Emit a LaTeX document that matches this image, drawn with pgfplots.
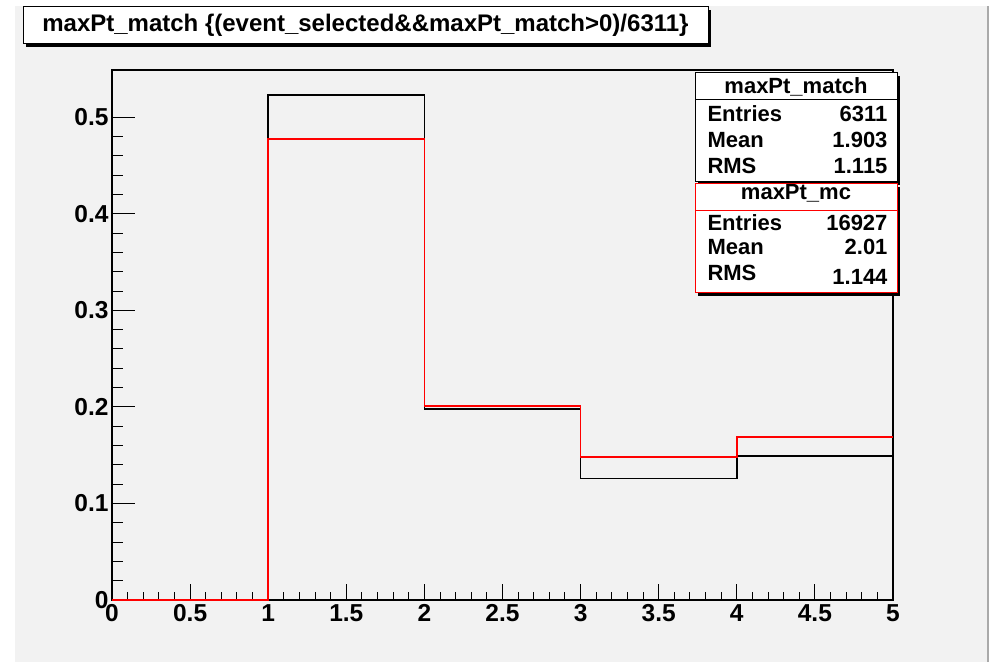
\documentclass[border=0pt]{standalone}
\usepackage{pgfplots}
\pgfplotsset{compat=1.18}
\usepackage{fontspec}
\setmainfont{Liberation Sans}
\definecolor{canvasgrey}{RGB}{242,242,242}
\definecolor{edgegrey}{RGB}{170,170,170}
\definecolor{histred}{RGB}{255,0,0}
\newcommand{\tickfont}{\fontsize{24.5}{28}\selectfont\bfseries}
\newcommand{\statfont}{\fontsize{22}{26}\selectfont\bfseries}
\begin{document}
\begin{tikzpicture}[x=1pt,y=1pt]
  % canvas
  \useasboundingbox (0,0) rectangle (994,662);
  \fill[white] (0,0) rectangle (994,662);
  \fill[canvasgrey] (15,0) rectangle (989,656);
  \draw[edgegrey,line width=2.5pt] (988,0) -- (988,656);

  % frame carrying the y ticks (longer tick marks on this axis)
  \begin{axis}[
      at={(112pt,62pt)}, anchor=south west,
      width=781pt, height=530pt, scale only axis,
      xmin=0, xmax=5, ymin=0, ymax=0.549,
      axis line style={line width=2pt},
      tick align=inside, tick pos=left,
      xtick=\empty,
      ytick={0,0.1,...,0.5}, minor y tick num=4,
      major tick length=23pt, minor tick length=11pt,
      every tick/.style={black, line width=1pt},
      yticklabel style={font=\tickfont},
      /pgf/number format/assume math mode=true,
    ]
    \addplot[draw=none] coordinates {(0,0)};
  \end{axis}

  % same frame with x ticks and the two histograms drawn over it
  \begin{axis}[
      at={(112pt,62pt)}, anchor=south west,
      width=781pt, height=530pt, scale only axis,
      xmin=0, xmax=5, ymin=0, ymax=0.549,
      axis line style={line width=2pt},
      tick align=inside, tick pos=left,
      xtick={0,0.5,...,5}, minor x tick num=4,
      ytick=\empty,
      major tick length=16pt, minor tick length=8pt,
      every tick/.style={black, line width=1pt},
      xticklabel style={font=\tickfont, yshift=-1pt},
      /pgf/number format/assume math mode=true,
      clip=false,
    ]
    \addplot[black, line width=1.6pt, const plot mark left] coordinates {
      (0,0) (1,0.5233) (2,0.198) (3,0.1257) (4,0.149) (5,0.149)
    };
    \addplot[histred, line width=1.6pt, const plot mark left] coordinates {
      (0,0) (1,0.4774) (2,0.201) (3,0.148) (4,0.169) (5,0.169)
    };
  \end{axis}

  % title box
  \fill[black] (26,615) rectangle (711,652);
  \draw[black, line width=1pt, fill=white] (23,618) rectangle (708,655);
  \node[font=\fontsize{24}{28}\selectfont\bfseries] at (365.5,636.5)
    {maxPt\_match \{(event\_selected\&\&maxPt\_match>0)/6311\}};

  % statistics box: maxPt_match
  \fill[black] (698,477) rectangle (900,586);
  \draw[black, line width=1pt, fill=white] (695,480) rectangle (897,589);
  \draw[black, line width=1pt] (695,562) -- (897,562);
  \node[font=\statfont] at (796,575.5) {maxPt\_match};
  \node[font=\statfont, anchor=west] at (704,548) {Entries};
  \node[font=\statfont, anchor=east] at (891,548) {6311};
  \node[font=\statfont, anchor=west] at (704,522) {Mean};
  \node[font=\statfont, anchor=east] at (891,522) {1.903};
  \node[font=\statfont, anchor=west] at (704,496) {RMS};
  \node[font=\statfont, anchor=east] at (891,496) {1.115};

  % statistics box: maxPt_mc
  \fill[black] (698,366) rectangle (900,475);
  \draw[histred, line width=1pt, fill=white] (695,369) rectangle (897,478);
  \draw[histred, line width=1pt] (695,451) -- (897,451);
  \node[font=\statfont] at (796,468.7) {maxPt\_mc};
  \node[font=\statfont, anchor=west] at (704,439.3) {Entries};
  \node[font=\statfont, anchor=east] at (891,439.3) {16927};
  \node[font=\statfont, anchor=west] at (704,414.7) {Mean};
  \node[font=\statfont, anchor=east] at (891,414.7) {2.01};
  \node[font=\statfont, anchor=west] at (704,388.7) {RMS};
  \node[font=\statfont, anchor=east] at (891,385.3) {1.144};
\end{tikzpicture}
\end{document}
